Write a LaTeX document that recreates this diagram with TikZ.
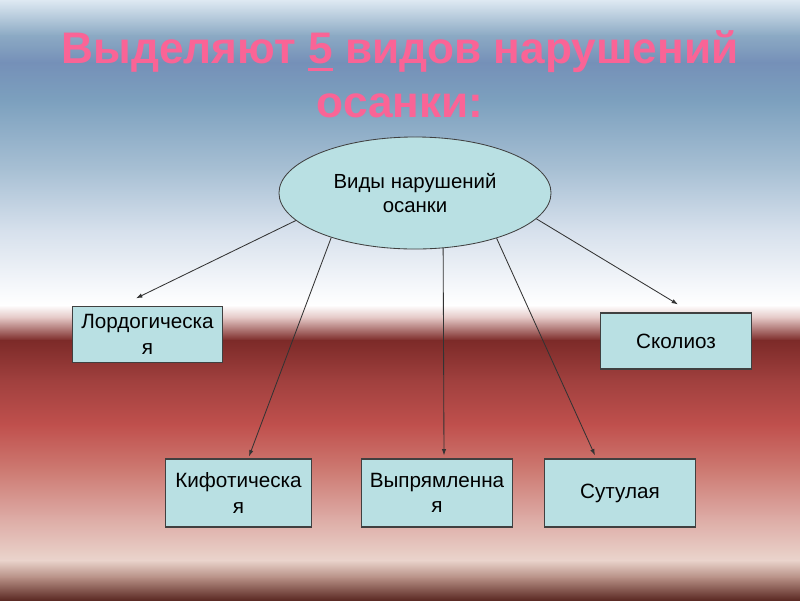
\documentclass[tikz,border=0pt]{standalone}
\usepackage{fontspec}
\setmainfont{Liberation Sans}
\usepackage{xcolor}
\usepackage{tikz}
\usetikzlibrary{positioning,arrows.meta,shapes.geometric}

% background bands, top to bottom
\definecolor{bgA}{RGB}{222,233,242}
\definecolor{bgB}{RGB}{140,170,196}
\definecolor{bgC}{RGB}{117,144,184}
\definecolor{bgD}{RGB}{124,160,190}
\definecolor{bgE}{RGB}{168,192,212}
\definecolor{bgF}{RGB}{214,224,236}
\definecolor{bgG}{RGB}{242,245,249}
\definecolor{bgH}{RGB}{255,255,255}
\definecolor{bgI}{RGB}{226,196,194}
\definecolor{bgJ}{RGB}{124,42,40}
\definecolor{bgK}{RGB}{160,64,62}
\definecolor{bgL}{RGB}{192,80,77}
\definecolor{bgM}{RGB}{205,122,114}
\definecolor{bgN}{RGB}{220,168,162}
\definecolor{bgO}{RGB}{234,212,204}
\definecolor{bgP}{RGB}{180,140,130}
\definecolor{bgQ}{RGB}{90,40,34}
\definecolor{titlepink}{RGB}{250,100,150}
\definecolor{boxfill}{RGB}{185,224,227}
\definecolor{boxline}{RGB}{64,64,64}

\begin{document}
\begin{tikzpicture}[
  x=0.025cm, y=0.025cm,
  title/.style={text=titlepink, align=center, font=\fontsize{31.4}{38}\selectfont\bfseries},
  hub/.style={ellipse, draw=boxline, line width=0.6pt, fill=boxfill, inner sep=0pt,
    minimum width=6.8cm, minimum height=2.8cm, align=center, font=\fontsize{14.5}{17.5}\selectfont},
  kind/.style={draw=boxline, line width=0.8pt, fill=boxfill, inner sep=0pt,
    minimum width=3.77cm, align=center, font=\fontsize{14.7}{18}\selectfont},
  arr/.style={draw=black!80, line width=0.6pt, -{Latex[length=1.6mm,width=1.1mm]}}]
\useasboundingbox (0,0) rectangle (800,-600);
\foreach \ya/\yb/\ca/\cb in {0/35/bgA/bgB, 35/62/bgB/bgC, 62/100/bgC/bgD, 100/170/bgD/bgE,
  170/230/bgE/bgF, 230/280/bgF/bgG, 280/305/bgG/bgH, 305/318/bgH/bgI, 318/340/bgI/bgJ,
  340/380/bgJ/bgK, 380/425/bgK/bgL, 425/470/bgL/bgM, 470/515/bgM/bgN, 515/560/bgN/bgO,
  560/578/bgO/bgP, 578/600/bgP/bgQ}
  \shade[top color=\ca, bottom color=\cb] (0,-\ya) rectangle (800,-\yb-0.6);

\node[title, anchor=base] (title) at (400,-117)
  {Выделяют \rlap{\rule[-5pt]{0.556em}{1.8pt}}5 видов нарушений\\осанки:};

\node[hub] (ell) at (415,-193) {Виды нарушений\\осанки};

\node[kind, minimum height=1.38cm] (lordo) at (147.5,-334.5) {Лордогическа\\я};
\node[kind, minimum height=1.4cm] (skol) at (676,-341) {Сколиоз};
\node[kind, minimum width=3.63cm, minimum height=1.7cm] (kyph) at (238.5,-493) {Кифотическа\\я};
\node[kind, minimum height=1.7cm] (vypr) at (437,-493) {Выпрямленна\\я};
\node[kind, minimum height=1.7cm] (sutul) at (620,-493) {Сутулая};

\draw[arr] (ell.193) -- ([shift={(-11.5,8)}]lordo.north);
\draw[arr] (ell.208) -- ([shift={(10.5,2)}]kyph.north);
\draw[arr] (ell.297) -- ([shift={(7,3)}]vypr.north);
\draw[arr] (ell.331) -- ([shift={(-25,3)}]sutul.north);
\draw[arr] (ell.348) -- ([shift={(2,8)}]skol.north);
\end{tikzpicture}
\end{document}
